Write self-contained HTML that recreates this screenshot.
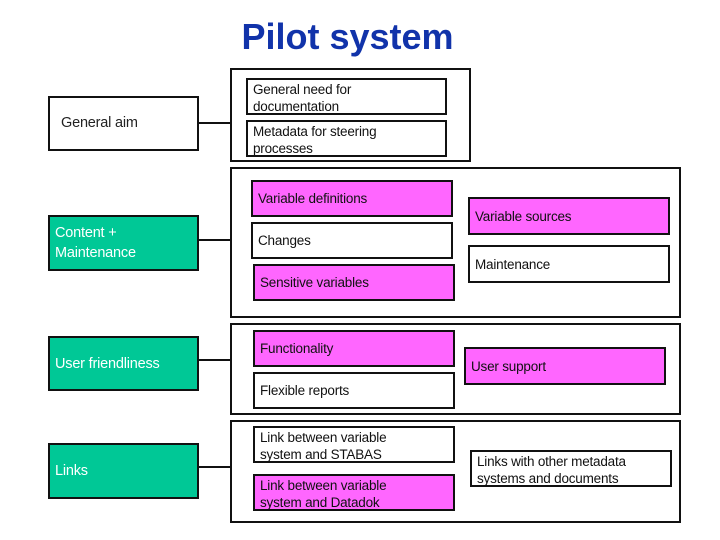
<!DOCTYPE html>
<html><head><style>
body{margin:0;width:720px;height:540px;background:#fff;position:relative;overflow:hidden;font-family:"Liberation Sans",sans-serif;}
.b{position:absolute;box-sizing:border-box;border:2px solid #111;font-size:13.5px;line-height:17px;color:#111;padding:2px 5px;letter-spacing:-0.2px;}
.g{background:#00c896;color:#fff;font-size:14.5px;line-height:20px;}
.m{background:#ff66ff;}
.l{position:absolute;height:2px;background:#111;}
h1{position:absolute;left:0;width:695px;text-align:center;top:16px;margin:0;font-size:36px;color:#1133aa;font-weight:bold;}
</style></head><body>
<h1>Pilot system</h1>
<div class="b" style="left:48px;top:96px;width:151px;height:55px;padding-top:17px;padding-left:11px;color:#222;font-size:14.5px">General aim</div>
<div class="l" style="left:198px;top:122px;width:33px"></div>
<div class="b" style="left:230px;top:68px;width:241px;height:94px"></div>
<div class="b" style="left:246px;top:78px;width:201px;height:37px;padding-top:1px">General need for<br>documentation</div>
<div class="b" style="left:246px;top:120px;width:201px;height:37px;padding-top:1px">Metadata for steering<br>processes</div>

<div class="b g" style="left:48px;top:215px;width:151px;height:56px;padding-top:6px">Content +<br>Maintenance</div>
<div class="l" style="left:198px;top:239px;width:33px"></div>
<div class="b" style="left:230px;top:167px;width:451px;height:151px"></div>
<div class="b m" style="left:251px;top:180px;width:202px;height:37px;padding-top:8px">Variable definitions</div>
<div class="b" style="left:251px;top:222px;width:202px;height:37px;padding-top:8px">Changes</div>
<div class="b m" style="left:253px;top:264px;width:202px;height:37px;padding-top:8px">Sensitive variables</div>
<div class="b m" style="left:468px;top:197px;width:202px;height:38px;padding-top:9px">Variable sources</div>
<div class="b" style="left:468px;top:245px;width:202px;height:38px;padding-top:9px">Maintenance</div>

<div class="b g" style="left:48px;top:336px;width:151px;height:55px;padding-top:16px">User friendliness</div>
<div class="l" style="left:198px;top:359px;width:33px"></div>
<div class="b" style="left:230px;top:323px;width:451px;height:92px"></div>
<div class="b m" style="left:253px;top:330px;width:202px;height:37px;padding-top:8px">Functionality</div>
<div class="b" style="left:253px;top:372px;width:202px;height:37px;padding-top:8px">Flexible reports</div>
<div class="b m" style="left:464px;top:347px;width:202px;height:38px;padding-top:9px">User support</div>

<div class="b g" style="left:48px;top:443px;width:151px;height:56px;padding-top:16px">Links</div>
<div class="l" style="left:198px;top:466px;width:33px"></div>
<div class="b" style="left:230px;top:420px;width:451px;height:103px"></div>
<div class="b" style="left:253px;top:426px;width:202px;height:37px;padding-top:1px">Link between variable<br>system and STABAS</div>
<div class="b m" style="left:253px;top:474px;width:202px;height:37px;padding-top:1px">Link between variable<br>system and Datadok</div>
<div class="b" style="left:470px;top:450px;width:202px;height:37px;padding-top:1px">Links with other metadata<br>systems and documents</div>
</body></html>
